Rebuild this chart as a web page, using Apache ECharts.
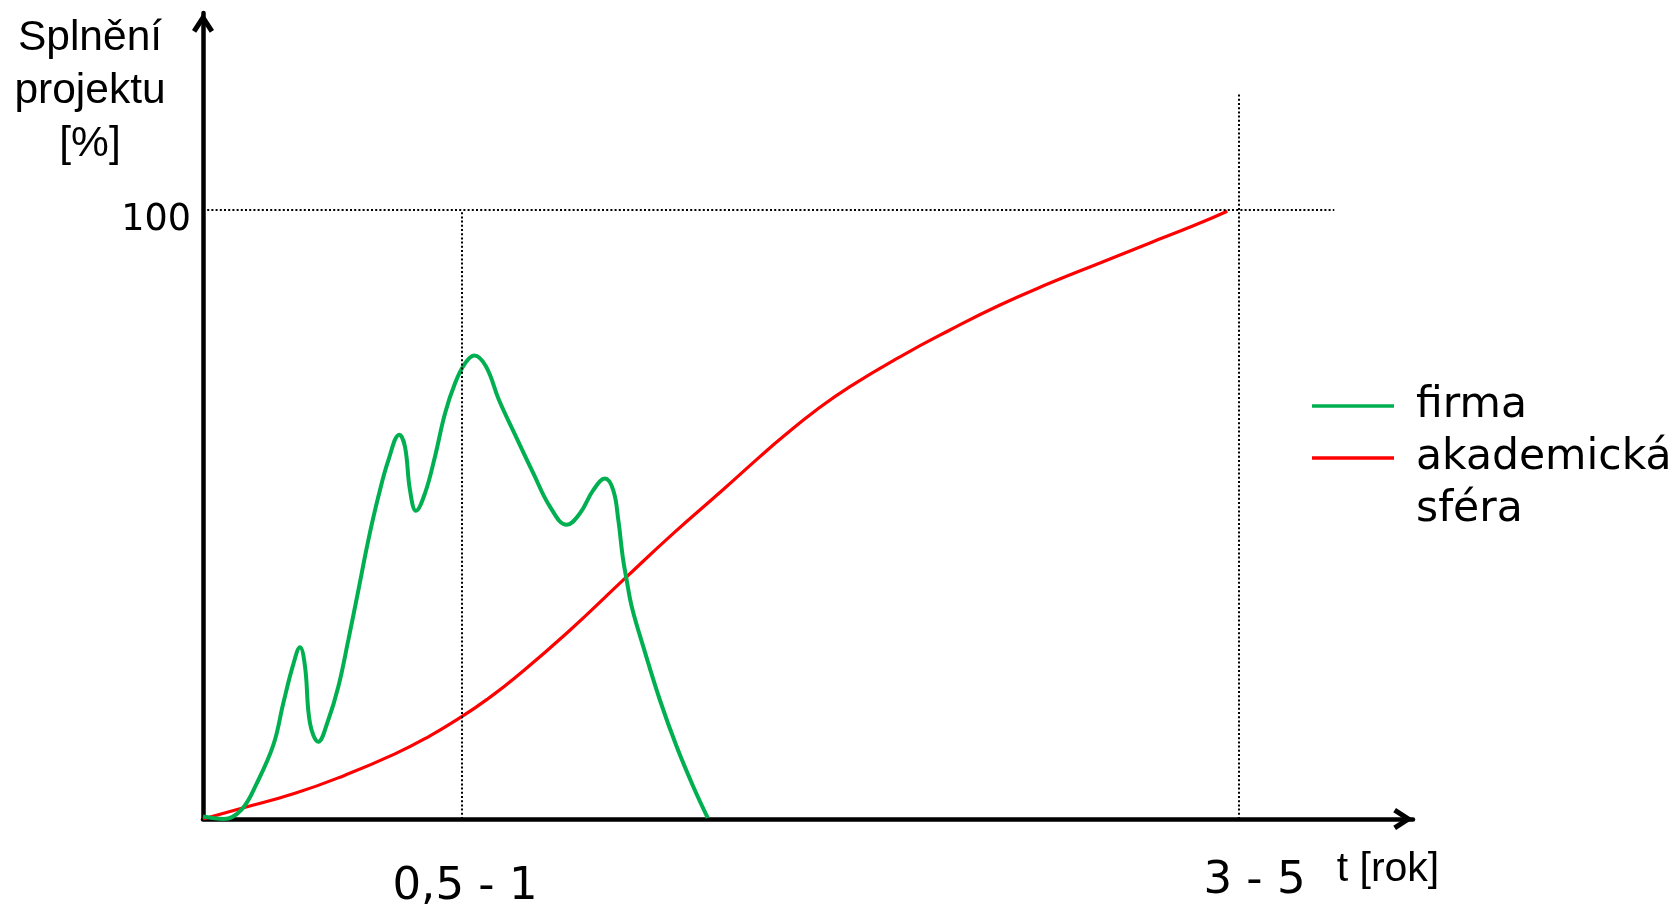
<!DOCTYPE html>
<html>
<head>
<meta charset="utf-8">
<script src="https://cdn.jsdelivr.net/npm/echarts@6/dist/echarts.min.js"></script>
<style>
html,body{margin:0;padding:0;background:#fff;}
#chart{width:1673px;height:907px;}
</style>
</head>
<body>
<div id="chart"></div>
<script>
// ---- data (schematic units: x 0..~117, 25 = "0,5 - 1", 100 = "3 - 5"; y in %) ----
const seriesNames = ['firma', 'akademická sféra'];
const xTickValues = [25, 100];
const xTickLabels = ['0,5 - 1', '3 - 5'];
const yTickValues = [100];
const yTickLabels = ['100'];
const yAxisTitle = 'Splnění\nprojektu\n[%]';
const xAxisTitle = 't [rok]';

const firmaT = [0, 2.0, 3.7, 5.2, 6.8, 7.75, 8.7, 9.36, 9.85, 10.33, 11.13, 12.1, 13.06, 14.03, 15.0, 15.96, 16.92, 17.89, 18.95, 19.5, 19.98, 20.56, 21.43, 22.39, 23.36, 24.32, 25.29, 26.18, 27.32, 28.57, 30.21, 31.88, 33.49, 35.1, 36.39, 37.67, 38.8, 39.6, 40.09, 40.51, 40.9, 41.38, 42.5, 44.11, 45.72, 47.33, 48.72];
const firmaV = [0.4, 0, 1.5, 5.9, 12.2, 19.0, 25.3, 28.2, 25.0, 15.7, 12.7, 16.3, 21.7, 29.4, 37.6, 45.8, 52.9, 58.9, 63.1, 61.1, 54.0, 50.6, 53.5, 59.5, 66.6, 71.5, 74.8, 76.1, 74.3, 68.8, 62.8, 56.8, 51.3, 48.3, 50.2, 54.0, 55.9, 54.0, 49.1, 43.1, 39.2, 34.9, 28.3, 19.5, 11.9, 5.3, 0.2];

const akadT = [0, 3.74, 8.88, 13.71, 18.53, 21.75, 24.97, 27.54, 30.12, 35.1, 40.73, 45.4, 50.22, 53.76, 56.01, 59.24, 62.45, 67.28, 72.1, 76.93, 81.76, 86.58, 91.41, 95.59, 98.87];
const akadV = [0, 1.76, 4.22, 7.2, 10.7, 13.5, 16.8, 19.8, 23.2, 30.5, 39.5, 46.9, 54.1, 59.5, 62.8, 67.2, 71.0, 75.9, 80.3, 84.4, 88.0, 91.3, 94.6, 97.4, 99.8];

// reference (dotted) lines, in data units
const refLines = [
  [[0, 100], [109.2, 100]],
  [[25, 0], [25, 100]],
  [[100, 0], [100, 119.0]]
];

const zip = (a, b) => a.map((v, i) => [v, b[i]]);
const chevron = 'path://M11,0 L22,17 L17.8,19.7 L11,9.2 L4.2,19.7 L0,17 Z';

const chart = echarts.init(document.getElementById('chart'));
chart.setOption({
  animation: false,
  backgroundColor: '#ffffff',
  title: [
    {
      text: yAxisTitle,
      left: 90,
      top: 12,
      padding: 0,
      textAlign: 'center',
      textStyle: {
        fontFamily: 'Liberation Sans',
        fontSize: 42.5,
        fontWeight: 'normal',
        lineHeight: 53,
        color: '#000'
      }
    },
    {
      text: xAxisTitle,
      left: 1388,
      top: 846,
      padding: 0,
      textAlign: 'center',
      textStyle: {
        fontFamily: 'Liberation Sans',
        fontSize: 41,
        fontWeight: 'normal',
        lineHeight: 48,
        color: '#000'
      }
    }
  ],
  legend: {
    orient: 'vertical',
    left: 1312,
    top: 380,
    padding: 0,
    itemWidth: 82,
    itemHeight: 3.5,
    itemGap: -52,
    icon: 'rect',
    selectedMode: false,
    data: seriesNames,
    formatter: function (name) {
      return name === seriesNames[1] ? '\nakademická\nsféra' : name;
    },
    textStyle: {
      fontFamily: 'DejaVu Sans',
      fontSize: 42.5,
      lineHeight: 52,
      color: '#000',
      padding: [0, 0, 0, 17]
    }
  },
  grid: {
    left: 203,
    right: 260,
    top: 13,
    bottom: 88,
    containLabel: false,
    outerBoundsMode: 'none'
  },
  xAxis: {
    type: 'value',
    min: 0,
    max: 116.8,
    splitLine: { show: false },
    axisTick: { show: false },
    axisLine: {
      show: true,
      lineStyle: { color: '#000', width: 4.5 },
      symbol: ['none', chevron],
      symbolSize: [22, 19.7],
      symbolOffset: [0, -9.85]
    },
    axisLabel: {
      customValues: xTickValues,
      margin: 62,
      verticalAlign: 'middle',
      color: '#000',
      fontFamily: 'DejaVu Sans',
      fontSize: 45,
      formatter: function (v) {
        const i = xTickValues.indexOf(v);
        return i === 0 ? '{a|' + xTickLabels[0] + '}' : '{b|' + xTickLabels[1] + '}';
      },
      rich: {
        a: { fontFamily: 'DejaVu Sans', fontSize: 45, color: '#000', padding: [12, 0, 0, 6] },
        b: { fontFamily: 'DejaVu Sans', fontSize: 45, color: '#000', padding: [0, 0, 0, 31] }
      }
    }
  },
  yAxis: {
    type: 'value',
    min: 0,
    max: 132.35,
    splitLine: { show: false },
    axisTick: { show: false },
    axisLine: {
      show: true,
      lineStyle: { color: '#000', width: 4.5 },
      symbol: ['none', chevron],
      symbolSize: [22, 19.7],
      symbolOffset: [0, -9.85]
    },
    axisLabel: {
      customValues: yTickValues,
      formatter: function (v) { return '{a|' + (yTickLabels[yTickValues.indexOf(v)] || '') + '}'; },
      margin: 12,
      color: '#000',
      fontFamily: 'DejaVu Sans',
      fontSize: 36.5,
      rich: {
        a: { fontFamily: 'DejaVu Sans', fontSize: 36.5, color: '#000', padding: [22, 0, 0, 0] }
      }
    }
  },
  series: [
    {
      name: seriesNames[1],
      type: 'line',
      data: zip(akadT, akadV),
      smooth: 0.5,
      symbol: 'none',
      color: '#FF0000',
      lineStyle: { color: '#FF0000', width: 3.2 },
      z: 2,
      markLine: {
        silent: true,
        symbol: ['none', 'none'],
        label: { show: false },
        lineStyle: { color: '#000', width: 2, type: [2, 2.2] },
        data: refLines.map(l => [{ coord: l[0] }, { coord: l[1] }])
      }
    },
    {
      name: seriesNames[0],
      type: 'line',
      data: zip(firmaT, firmaV),
      smooth: 0.4,
      symbol: 'none',
      color: '#00B050',
      lineStyle: { color: '#00B050', width: 4 },
      z: 3
    }
  ]
});
</script>
</body>
</html>
